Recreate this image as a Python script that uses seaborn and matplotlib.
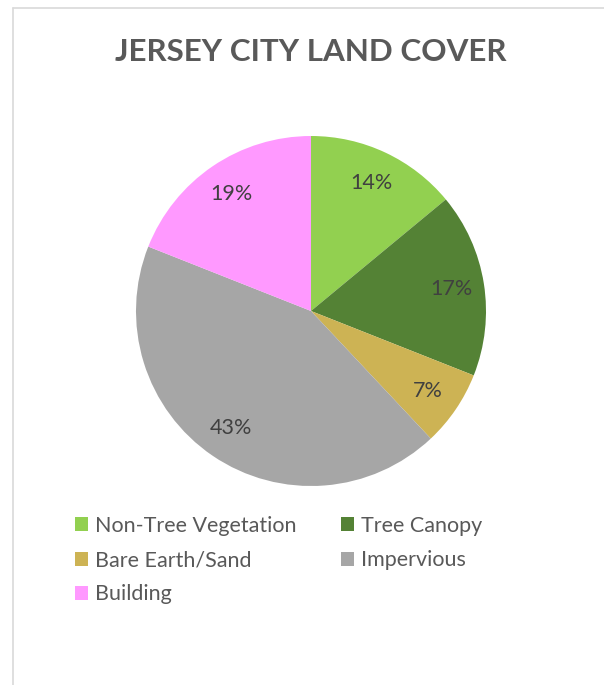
import matplotlib
matplotlib.use("Agg")
import matplotlib.pyplot as plt
import seaborn as sns
from matplotlib.lines import Line2D
from matplotlib.patches import Patch

categories = ["Non-Tree Vegetation", "Tree Canopy", "Bare Earth/Sand", "Impervious", "Building"]
values = [14, 17, 7, 43, 19]
colors = ["#92D050", "#548235", "#CDB354", "#A6A6A6", "#FF99FF"]
title = "JERSEY CITY LAND COVER"

sns.set_theme(style="white")
plt.rcParams["font.family"] = ["Lato", "DejaVu Sans"]

W, H = 604, 685
fig = plt.figure(figsize=(W / 100, H / 100), dpi=100)
fig.patch.set_facecolor("white")

# frame lines (left and top)
fig.add_artist(Line2D([13 / W, 13 / W], [0, 1 - 8 / H], transform=fig.transFigure, color="#D9D9D9", lw=1.2))
fig.add_artist(Line2D([13 / W, 1], [1 - 8 / H, 1 - 8 / H], transform=fig.transFigure, color="#D9D9D9", lw=1.2))

cx, cy, r = 311, 311, 175
ax = fig.add_axes([(cx - r) / W, 1 - (cy + r) / H, 2 * r / W, 2 * r / H])
wedges, texts, autotexts = ax.pie(
    values, colors=colors, startangle=90, counterclock=False,
    autopct=lambda p: f"{p:.0f}%", pctdistance=0.81,
    wedgeprops=dict(linewidth=0),
    textprops=dict(color="#404040", fontsize=15.5),
)
ax.set_aspect("equal")
ax.set_xlim(-1, 1)
ax.set_ylim(-1, 1)
ax.axis("off")

fig.text(cx / W, 1 - 52 / H, title, ha="center", va="center",
         fontsize=22.6, fontweight="bold", color="#595959")

order = [0, 2, 4, 1, 3]
handles = [Patch(facecolor=colors[i], edgecolor="none") for i in order]
labels = [categories[i] for i in order]
fig.legend(handles, labels, ncol=2, loc="upper left",
           bbox_to_anchor=(75 / W, 1 - 516 / H), frameon=False,
           fontsize=15.5, labelcolor="#595959",
           handlelength=0.62, handleheight=0.62, handletextpad=0.31,
           columnspacing=2.05, labelspacing=0.66, borderaxespad=0, borderpad=0)

fig.savefig("out.png", dpi=100, facecolor="white")
